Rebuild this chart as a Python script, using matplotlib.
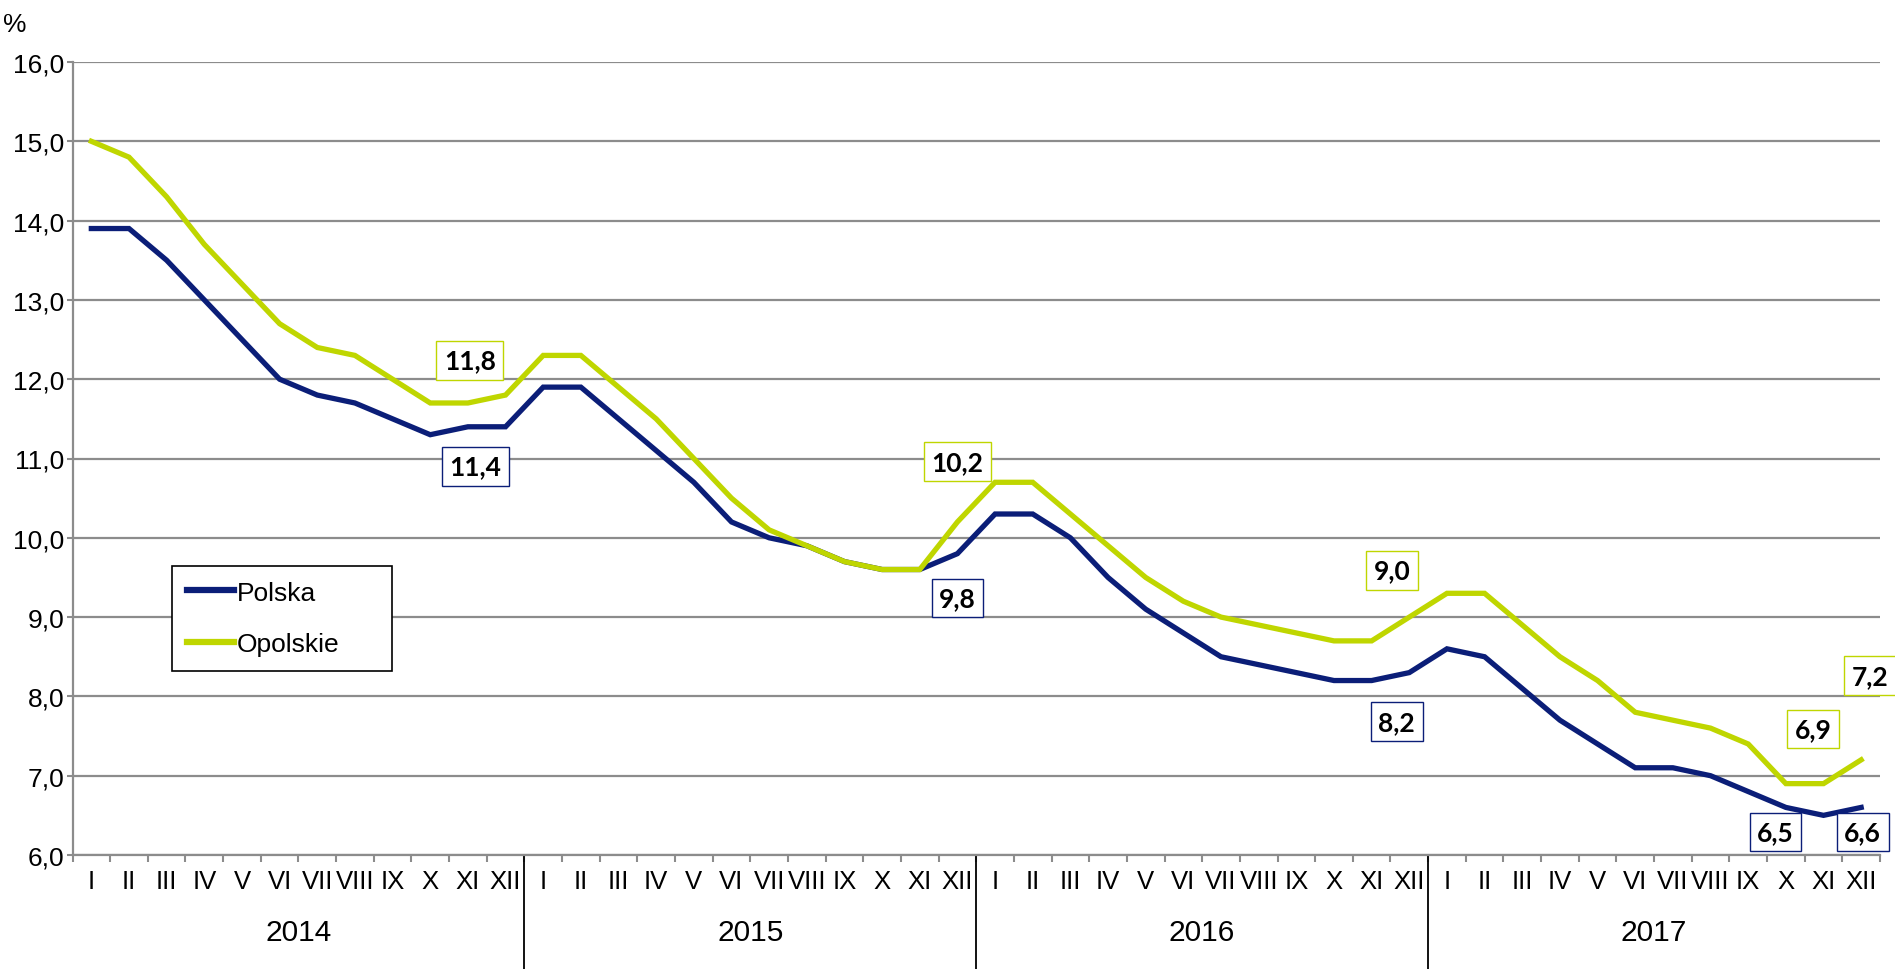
import numpy as np
import matplotlib
matplotlib.use("Agg")
import matplotlib.pyplot as plt
import matplotlib.transforms as mtransforms

# months and years on the category axis
months = ["I", "II", "III", "IV", "V", "VI", "VII", "VIII", "IX", "X", "XI", "XII"]
years = ["2014", "2015", "2016", "2017"]

# unemployment rate, %
polska = [13.9, 13.9, 13.5, 13.0, 12.5, 12.0, 11.8, 11.7, 11.5, 11.3, 11.4, 11.4,
          11.9, 11.9, 11.5, 11.1, 10.7, 10.2, 10.0, 9.9, 9.7, 9.6, 9.6, 9.8,
          10.3, 10.3, 10.0, 9.5, 9.1, 8.8, 8.5, 8.4, 8.3, 8.2, 8.2, 8.3,
          8.6, 8.5, 8.1, 7.7, 7.4, 7.1, 7.1, 7.0, 6.8, 6.6, 6.5, 6.6]
opolskie = [15.0, 14.8, 14.3, 13.7, 13.2, 12.7, 12.4, 12.3, 12.0, 11.7, 11.7, 11.8,
            12.3, 12.3, 11.9, 11.5, 11.0, 10.5, 10.1, 9.9, 9.7, 9.6, 9.6, 10.2,
            10.7, 10.7, 10.3, 9.9, 9.5, 9.2, 9.0, 8.9, 8.8, 8.7, 8.7, 9.0,
            9.3, 9.3, 8.9, 8.5, 8.2, 7.8, 7.7, 7.6, 7.4, 6.9, 6.9, 7.2]

# boxed value labels: (text, x position, y position)
polska_labels = [("11,4", 10.2, 10.9), ("9,8", 23.0, 9.24), ("8,2", 34.67, 7.68),
                 ("6,5", 44.73, 6.29), ("6,6", 47.04, 6.29)]
opolskie_labels = [("11,8", 10.05, 12.24), ("10,2", 23.0, 10.96), ("9,0", 34.54, 9.59),
                   ("6,9", 45.72, 7.59), ("7,2", 47.23, 8.26)]

navy = "#0B1E78"
lime = "#BFD600"
grid_grey = "#8C8C8C"
narrow = ["Liberation Sans Narrow", "Liberation Sans", "DejaVu Sans"]
plt.rcParams["font.family"] = narrow

fig = plt.figure(figsize=(18.95, 9.70), dpi=100)
ax = fig.add_axes([72.5 / 1895, 1 - 856 / 970, (1880 - 72.5) / 1895, (856 - 63) / 970])

x = np.arange(len(polska))
ax.plot(x, polska, color=navy, lw=3.8, solid_joinstyle="miter", label="Polska", zorder=3)
ax.plot(x, opolskie, color=lime, lw=3.8, solid_joinstyle="miter", label="Opolskie", zorder=3)

ax.set_xlim(-0.5, len(x) - 0.5)
ax.set_ylim(6, 16)
ax.set_yticks(np.arange(6, 16.1, 1))
ax.set_yticklabels([f"{v:.1f}".replace(".", ",") for v in np.arange(6, 16.1, 1)])
ax.yaxis.grid(True, color=grid_grey, lw=1.6)
ax.set_axisbelow(True)

ax.set_xticks(x)
ax.set_xticklabels(months * len(years))
ax.set_xticks(np.arange(-0.5, len(x), 1), minor=True)
ax.tick_params(axis="x", which="major", length=0, pad=10, labelsize=18.5)
ax.tick_params(axis="x", which="minor", length=5, width=1.5, color=grid_grey)
ax.tick_params(axis="y", length=4, width=1.5, color=grid_grey, labelsize=19, pad=2)

for s in ["top", "right"]:
    ax.spines[s].set_visible(False)
for s in ["left", "bottom"]:
    ax.spines[s].set_color(grid_grey)
    ax.spines[s].set_linewidth(1.6)

# year labels and separators
trans = mtransforms.blended_transform_factory(ax.transData, ax.transAxes)
for i, yr in enumerate(years):
    ax.text(i * 12 + 5.5, -0.097, yr, transform=trans, ha="center", va="center", fontsize=21.5)
    if i > 0:
        ax.plot([i * 12 - 0.5, i * 12 - 0.5], [0, -0.145], transform=trans,
                color="black", lw=1.3, clip_on=False)

# boxed value labels
for labels, col in [(polska_labels, navy), (opolskie_labels, lime)]:
    for txt, lx, ly in labels:
        ax.text(lx, ly, txt, ha="center", va="center", fontsize=19, fontweight="bold",
                family=["Lato", "DejaVu Sans"], clip_on=False, zorder=5,
                bbox=dict(boxstyle="square,pad=0.28", fc="white", ec=col, lw=1.0))

fig.text(15 / 1895, 1 - 25 / 970, "%", ha="center", va="center", fontsize=19)

leg = ax.legend(loc="upper left", bbox_to_anchor=(172 / 1895, 1 - 567 / 970, 220 / 1895, 0),
                bbox_transform=fig.transFigure, mode="expand", fontsize=19,
                frameon=True, fancybox=False, edgecolor="black", framealpha=1,
                handlelength=1.8, handletextpad=0.1, labelspacing=1.05, borderpad=0.55,
                borderaxespad=0)
leg.get_frame().set_linewidth(1.2)
for h in leg.get_lines():
    h.set_linewidth(4.5)

fig.savefig("out.png", dpi=100)
